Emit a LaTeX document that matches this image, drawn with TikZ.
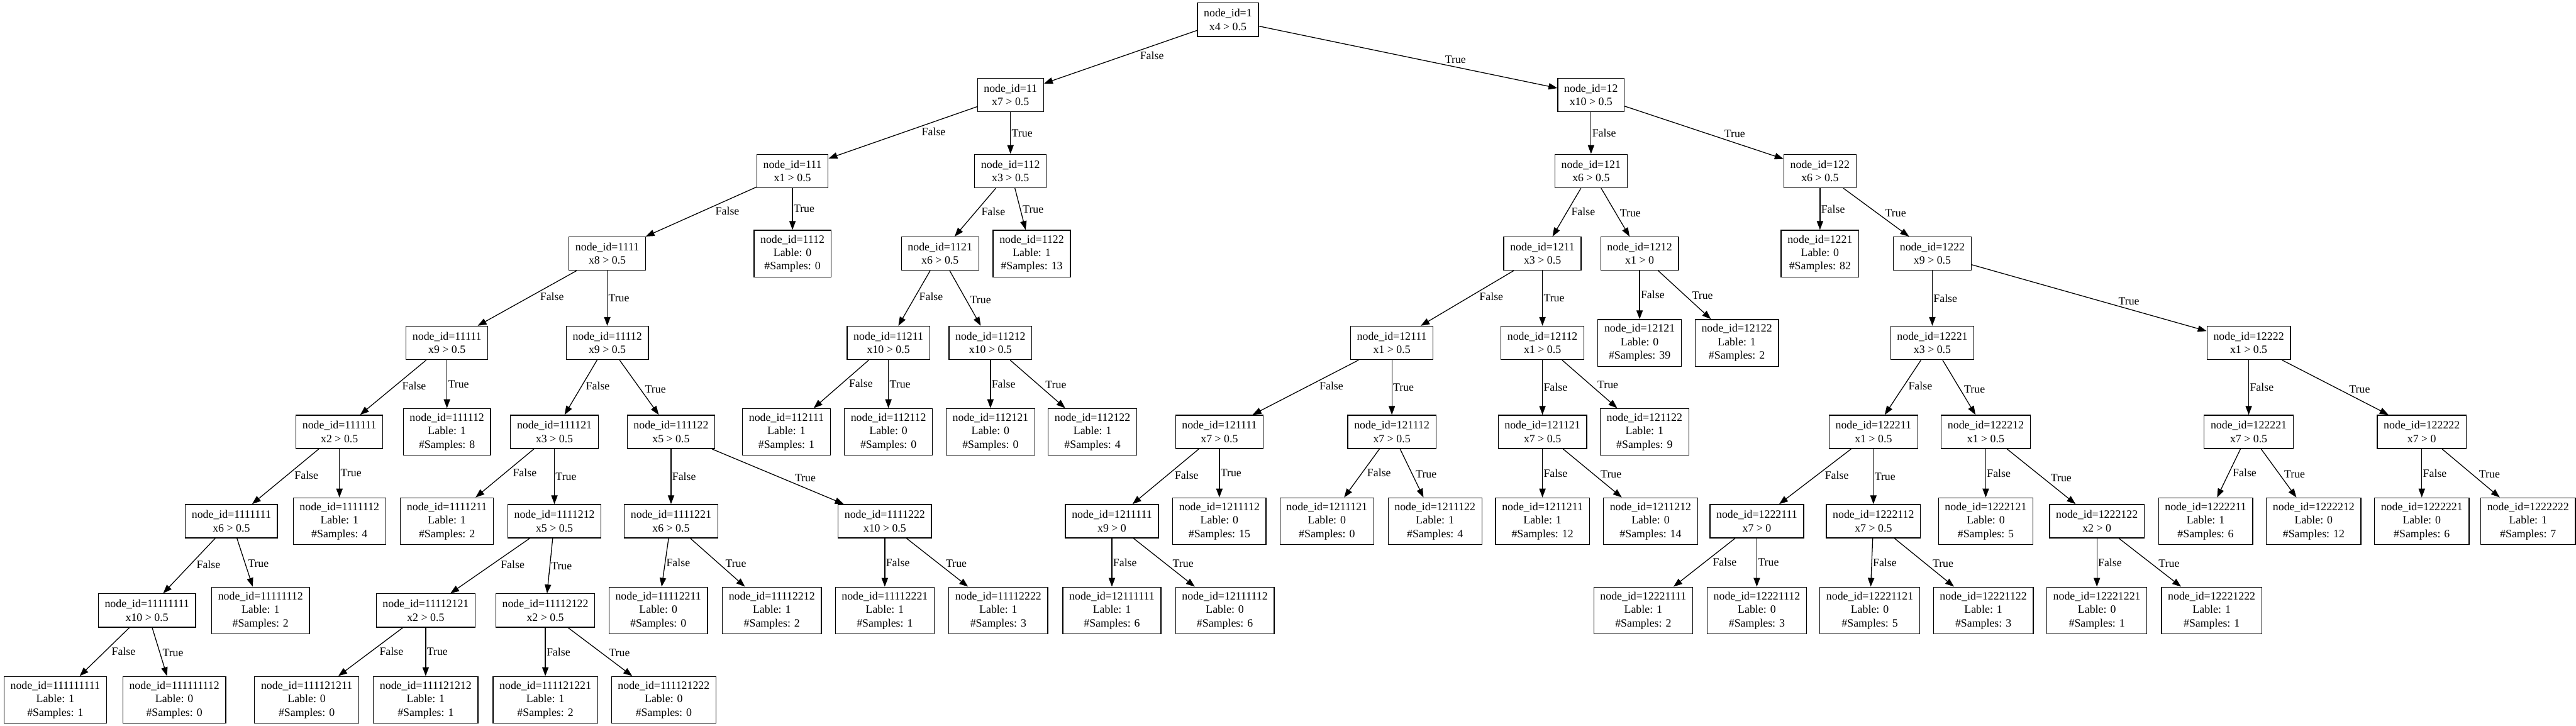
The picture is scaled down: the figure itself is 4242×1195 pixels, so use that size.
\documentclass[tikz,border=0pt]{standalone}
\usepackage{fontspec}
\setmainfont{Liberation Serif}
\usetikzlibrary{arrows.meta}

\begin{document}
\begin{tikzpicture}[x=0.7576pt, y=-0.7576pt, every node/.style={font=\fontsize{14}{16.8}\selectfont}]
			\tikzset{noeud/.style={rectangle, draw=black, line width=1pt, align=center, inner xsep=8pt, inner ysep=2pt, minimum width=54pt, minimum height=41.7pt},
				feuille/.style={noeud, minimum height=58.3pt},
				fleche/.style={-{Triangle[length=11pt, width=8pt]}, line width=1pt},
				gauche/.style={pos=0.38, anchor=north west, inner sep=1pt},
				droite/.style={pos=0.62, anchor=south west, inner sep=1pt},
				bas/.style={pos=0.5, anchor=west, inner sep=1pt}};

			\useasboundingbox (0,0) rectangle (4242,1195);

			% racine
			\node[noeud] (n1) at (2022, 32.5) {node\_id=1\\x4 > 0.5};

			% niveau 1
			\node[noeud] (n11) at (1664, 156.5) {node\_id=11\\x7 > 0.5};
			\node[noeud] (n12) at (2620, 156.5) {node\_id=12\\x10 > 0.5};

			% niveau 2
			\node[noeud] (n111) at (1305, 281.5) {node\_id=111\\x1 > 0.5};
			\node[noeud] (n112) at (1664, 281.5) {node\_id=112\\x3 > 0.5};
			\node[noeud] (n121) at (2620, 281.5) {node\_id=121\\x6 > 0.5};
			\node[noeud] (n122) at (2997, 281.5) {node\_id=122\\x6 > 0.5};

			% niveau 3
			\node[noeud]   (n1111) at (1000, 417.5) {node\_id=1111\\x8 > 0.5};
			\node[feuille] (n1112) at (1305, 417.5) {node\_id=1112\\Lable: 0\\\#Samples: 0};
			\node[noeud]   (n1121) at (1548, 417.5) {node\_id=1121\\x6 > 0.5};
			\node[feuille] (n1122) at (1699, 417.5) {node\_id=1122\\Lable: 1\\\#Samples: 13};
			\node[noeud]   (n1211) at (2540, 417.5) {node\_id=1211\\x3 > 0.5};
			\node[noeud]   (n1212) at (2700, 417.5) {node\_id=1212\\x1 > 0};
			\node[feuille] (n1221) at (2997, 417.5) {node\_id=1221\\Lable: 0\\\#Samples: 82};
			\node[noeud]   (n1222) at (3182, 417.5) {node\_id=1222\\x9 > 0.5};

			% niveau 4
			\node[noeud]   (n11111) at ( 736, 564.5) {node\_id=11111\\x9 > 0.5};
			\node[noeud]   (n11112) at (1000, 564.5) {node\_id=11112\\x9 > 0.5};
			\node[noeud]   (n11211) at (1463, 564.5) {node\_id=11211\\x10 > 0.5};
			\node[noeud]   (n11212) at (1631, 564.5) {node\_id=11212\\x10 > 0.5};
			\node[noeud]   (n12111) at (2292, 564.5) {node\_id=12111\\x1 > 0.5};
			\node[noeud]   (n12112) at (2540, 564.5) {node\_id=12112\\x1 > 0.5};
			\node[feuille] (n12121) at (2700, 564.5) {node\_id=12121\\Lable: 0\\\#Samples: 39};
			\node[feuille] (n12122) at (2860, 564.5) {node\_id=12122\\Lable: 1\\\#Samples: 2};
			\node[noeud]   (n12221) at (3182, 564.5) {node\_id=12221\\x3 > 0.5};
			\node[noeud]   (n12222) at (3703, 564.5) {node\_id=12222\\x1 > 0.5};

			% niveau 5
			\node[noeud]   (n111111) at ( 559, 711) {node\_id=111111\\x2 > 0.5};
			\node[feuille] (n111112) at ( 736, 711) {node\_id=111112\\Lable: 1\\\#Samples: 8};
			\node[noeud]   (n111121) at ( 913, 711) {node\_id=111121\\x3 > 0.5};
			\node[noeud]   (n111122) at (1105, 711) {node\_id=111122\\x5 > 0.5};
			\node[feuille] (n112111) at (1295, 711) {node\_id=112111\\Lable: 1\\\#Samples: 1};
			\node[feuille] (n112112) at (1463, 711) {node\_id=112112\\Lable: 0\\\#Samples: 0};
			\node[feuille] (n112121) at (1631, 711) {node\_id=112121\\Lable: 0\\\#Samples: 0};
			\node[feuille] (n112122) at (1799, 711) {node\_id=112122\\Lable: 1\\\#Samples: 4};
			\node[noeud]   (n121111) at (2008, 711) {node\_id=121111\\x7 > 0.5};
			\node[noeud]   (n121112) at (2292, 711) {node\_id=121112\\x7 > 0.5};
			\node[noeud]   (n121121) at (2540, 711) {node\_id=121121\\x7 > 0.5};
			\node[feuille] (n121122) at (2708, 711) {node\_id=121122\\Lable: 1\\\#Samples: 9};
			\node[noeud]   (n122211) at (3085, 711) {node\_id=122211\\x1 > 0.5};
			\node[noeud]   (n122212) at (3270, 711) {node\_id=122212\\x1 > 0.5};
			\node[noeud]   (n122221) at (3703, 711) {node\_id=122221\\x7 > 0.5};
			\node[noeud]   (n122222) at (3988, 711) {node\_id=122222\\x7 > 0};

			% niveau 6
			\node[noeud]   (n1111111) at ( 381, 858) {node\_id=1111111\\x6 > 0.5};
			\node[feuille] (n1111112) at ( 559, 858) {node\_id=1111112\\Lable: 1\\\#Samples: 4};
			\node[feuille] (n1111211) at ( 736, 858) {node\_id=1111211\\Lable: 1\\\#Samples: 2};
			\node[noeud]   (n1111212) at ( 913, 858) {node\_id=1111212\\x5 > 0.5};
			\node[noeud]   (n1111221) at (1105, 858) {node\_id=1111221\\x6 > 0.5};
			\node[noeud]   (n1111222) at (1457, 858) {node\_id=1111222\\x10 > 0.5};
			\node[noeud]   (n1211111) at (1831, 858) {node\_id=1211111\\x9 > 0};
			\node[feuille] (n1211112) at (2008, 858) {node\_id=1211112\\Lable: 0\\\#Samples: 15};
			\node[feuille] (n1211121) at (2185, 858) {node\_id=1211121\\Lable: 0\\\#Samples: 0};
			\node[feuille] (n1211122) at (2363, 858) {node\_id=1211122\\Lable: 1\\\#Samples: 4};
			\node[feuille] (n1211211) at (2540, 858) {node\_id=1211211\\Lable: 1\\\#Samples: 12};
			\node[feuille] (n1211212) at (2718, 858) {node\_id=1211212\\Lable: 0\\\#Samples: 14};
			\node[noeud]   (n1222111) at (2893, 858) {node\_id=1222111\\x7 > 0};
			\node[noeud]   (n1222112) at (3085, 858) {node\_id=1222112\\x7 > 0.5};
			\node[feuille] (n1222121) at (3270, 858) {node\_id=1222121\\Lable: 0\\\#Samples: 5};
			\node[noeud]   (n1222122) at (3453, 858) {node\_id=1222122\\x2 > 0};
			\node[feuille] (n1222211) at (3632, 858) {node\_id=1222211\\Lable: 1\\\#Samples: 6};
			\node[feuille] (n1222212) at (3810, 858) {node\_id=1222212\\Lable: 0\\\#Samples: 12};
			\node[feuille] (n1222221) at (3988, 858) {node\_id=1222221\\Lable: 0\\\#Samples: 6};
			\node[feuille] (n1222222) at (4163, 858) {node\_id=1222222\\Lable: 1\\\#Samples: 7};

			% niveau 7
			\node[noeud]   (n11111111) at ( 242, 1005) {node\_id=11111111\\x10 > 0.5};
			\node[feuille] (n11111112) at ( 429, 1005) {node\_id=11111112\\Lable: 1\\\#Samples: 2};
			\node[noeud]   (n11112121) at ( 701, 1005) {node\_id=11112121\\x2 > 0.5};
			\node[noeud]   (n11112122) at ( 898, 1005) {node\_id=11112122\\x2 > 0.5};
			\node[feuille] (n11112211) at (1084, 1005) {node\_id=11112211\\Lable: 0\\\#Samples: 0};
			\node[feuille] (n11112212) at (1271, 1005) {node\_id=11112212\\Lable: 1\\\#Samples: 2};
			\node[feuille] (n11112221) at (1457, 1005) {node\_id=11112221\\Lable: 1\\\#Samples: 1};
			\node[feuille] (n11112222) at (1644, 1005) {node\_id=11112222\\Lable: 1\\\#Samples: 3};
			\node[feuille] (n12111111) at (1831, 1005) {node\_id=12111111\\Lable: 1\\\#Samples: 6};
			\node[feuille] (n12111112) at (2017, 1005) {node\_id=12111112\\Lable: 0\\\#Samples: 6};
			\node[feuille] (n12221111) at (2706, 1005) {node\_id=12221111\\Lable: 1\\\#Samples: 2};
			\node[feuille] (n12221112) at (2893, 1005) {node\_id=12221112\\Lable: 0\\\#Samples: 3};
			\node[feuille] (n12221121) at (3079, 1005) {node\_id=12221121\\Lable: 0\\\#Samples: 5};
			\node[feuille] (n12221122) at (3266, 1005) {node\_id=12221122\\Lable: 1\\\#Samples: 3};
			\node[feuille] (n12221221) at (3453, 1005) {node\_id=12221221\\Lable: 0\\\#Samples: 1};
			\node[feuille] (n12221222) at (3642, 1005) {node\_id=12221222\\Lable: 1\\\#Samples: 1};

			% niveau 8
			\node[feuille] (n111111111) at (  91, 1152) {node\_id=111111111\\Lable: 1\\\#Samples: 1};
			\node[feuille] (n111111112) at ( 287, 1152) {node\_id=111111112\\Lable: 0\\\#Samples: 0};
			\node[feuille] (n111121211) at ( 505, 1152) {node\_id=111121211\\Lable: 0\\\#Samples: 0};
			\node[feuille] (n111121212) at ( 701, 1152) {node\_id=111121212\\Lable: 1\\\#Samples: 1};
			\node[feuille] (n111121221) at ( 898, 1152) {node\_id=111121221\\Lable: 1\\\#Samples: 2};
			\node[feuille] (n111121222) at (1093, 1152) {node\_id=111121222\\Lable: 0\\\#Samples: 0};

			% aretes
			\draw[fleche] (n1) to node[gauche] {False} (n11);
			\draw[fleche] (n1) to node[droite] {True} (n12);

			\draw[fleche] (n11) to node[gauche] {False} (n111);
			\draw[fleche] (n11) to node[bas] {True} (n112);
			\draw[fleche] (n12) to node[bas] {False} (n121);
			\draw[fleche] (n12) to node[droite] {True} (n122);

			\draw[fleche] (n111) to node[gauche] {False} (n1111);
			\draw[fleche] (n111) to node[bas] {True} (n1112);
			\draw[fleche] (n112) to node[gauche] {False} (n1121);
			\draw[fleche] (n112) to node[droite] {True} (n1122);
			\draw[fleche] (n121) to node[gauche] {False} (n1211);
			\draw[fleche] (n121) to node[droite] {True} (n1212);
			\draw[fleche] (n122) to node[bas] {False} (n1221);
			\draw[fleche] (n122) to node[droite] {True} (n1222);

			\draw[fleche] (n1111) to node[gauche] {False} (n11111);
			\draw[fleche] (n1111) to node[bas] {True} (n11112);
			\draw[fleche] (n1121) to node[gauche] {False} (n11211);
			\draw[fleche] (n1121) to node[droite] {True} (n11212);
			\draw[fleche] (n1211) to node[gauche] {False} (n12111);
			\draw[fleche] (n1211) to node[bas] {True} (n12112);
			\draw[fleche] (n1212) to node[bas] {False} (n12121);
			\draw[fleche] (n1212) to node[droite] {True} (n12122);
			\draw[fleche] (n1222) to node[bas] {False} (n12221);
			\draw[fleche] (n1222) to node[droite] {True} (n12222);

			\draw[fleche] (n11111) to node[gauche] {False} (n111111);
			\draw[fleche] (n11111) to node[bas] {True} (n111112);
			\draw[fleche] (n11112) to node[gauche] {False} (n111121);
			\draw[fleche] (n11112) to node[droite] {True} (n111122);
			\draw[fleche] (n11211) to node[gauche] {False} (n112111);
			\draw[fleche] (n11211) to node[bas] {True} (n112112);
			\draw[fleche] (n11212) to node[bas] {False} (n112121);
			\draw[fleche] (n11212) to node[droite] {True} (n112122);
			\draw[fleche] (n12111) to node[gauche] {False} (n121111);
			\draw[fleche] (n12111) to node[bas] {True} (n121112);
			\draw[fleche] (n12112) to node[bas] {False} (n121121);
			\draw[fleche] (n12112) to node[droite] {True} (n121122);
			\draw[fleche] (n12221) to node[gauche] {False} (n122211);
			\draw[fleche] (n12221) to node[droite] {True} (n122212);
			\draw[fleche] (n12222) to node[bas] {False} (n122221);
			\draw[fleche] (n12222) to node[droite] {True} (n122222);

			\draw[fleche] (n111111) to node[gauche] {False} (n1111111);
			\draw[fleche] (n111111) to node[bas] {True} (n1111112);
			\draw[fleche] (n111121) to node[gauche] {False} (n1111211);
			\draw[fleche] (n111121) to node[bas] {True} (n1111212);
			\draw[fleche] (n111122) to node[bas] {False} (n1111221);
			\draw[fleche] (n111122) to node[droite] {True} (n1111222);
			\draw[fleche] (n121111) to node[gauche] {False} (n1211111);
			\draw[fleche] (n121111) to node[bas] {True} (n1211112);
			\draw[fleche] (n121112) to node[gauche] {False} (n1211121);
			\draw[fleche] (n121112) to node[droite] {True} (n1211122);
			\draw[fleche] (n121121) to node[bas] {False} (n1211211);
			\draw[fleche] (n121121) to node[droite] {True} (n1211212);
			\draw[fleche] (n122211) to node[gauche] {False} (n1222111);
			\draw[fleche] (n122211) to node[bas] {True} (n1222112);
			\draw[fleche] (n122212) to node[bas] {False} (n1222121);
			\draw[fleche] (n122212) to node[droite] {True} (n1222122);
			\draw[fleche] (n122221) to node[gauche] {False} (n1222211);
			\draw[fleche] (n122221) to node[droite] {True} (n1222212);
			\draw[fleche] (n122222) to node[bas] {False} (n1222221);
			\draw[fleche] (n122222) to node[droite] {True} (n1222222);

			\draw[fleche] (n1111111) to node[gauche] {False} (n11111111);
			\draw[fleche] (n1111111) to node[droite] {True} (n11111112);
			\draw[fleche] (n1111212) to node[gauche] {False} (n11112121);
			\draw[fleche] (n1111212) to node[bas] {True} (n11112122);
			\draw[fleche] (n1111221) to node[bas] {False} (n11112211);
			\draw[fleche] (n1111221) to node[droite] {True} (n11112212);
			\draw[fleche] (n1111222) to node[bas] {False} (n11112221);
			\draw[fleche] (n1111222) to node[droite] {True} (n11112222);
			\draw[fleche] (n1211111) to node[bas] {False} (n12111111);
			\draw[fleche] (n1211111) to node[droite] {True} (n12111112);
			\draw[fleche] (n1222111) to node[gauche] {False} (n12221111);
			\draw[fleche] (n1222111) to node[bas] {True} (n12221112);
			\draw[fleche] (n1222112) to node[bas] {False} (n12221121);
			\draw[fleche] (n1222112) to node[droite] {True} (n12221122);
			\draw[fleche] (n1222122) to node[bas] {False} (n12221221);
			\draw[fleche] (n1222122) to node[droite] {True} (n12221222);

			\draw[fleche] (n11111111) to node[gauche] {False} (n111111111);
			\draw[fleche] (n11111111) to node[droite] {True} (n111111112);
			\draw[fleche] (n11112121) to node[gauche] {False} (n111121211);
			\draw[fleche] (n11112121) to node[bas] {True} (n111121212);
			\draw[fleche] (n11112122) to node[bas] {False} (n111121221);
			\draw[fleche] (n11112122) to node[droite] {True} (n111121222);

		\end{tikzpicture}
\end{document}
